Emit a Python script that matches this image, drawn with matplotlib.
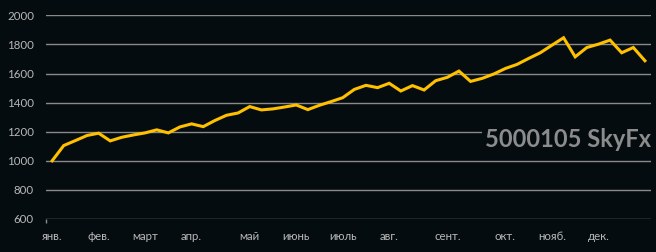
import matplotlib
matplotlib.use("Agg")
from matplotlib import pyplot as plt

# weekly balance
balance = [1000, 1105, 1139, 1174, 1190, 1137, 1162, 1178, 1192, 1213,
           1192, 1233, 1254, 1235, 1277, 1313, 1329, 1373, 1350, 1357,
           1370, 1384, 1352, 1382, 1407, 1434, 1491, 1519, 1503, 1533,
           1480, 1517, 1487, 1551, 1574, 1617, 1546, 1567, 1597, 1635,
           1663, 1704, 1743, 1795, 1846, 1715, 1779, 1802, 1830, 1743,
           1779, 1688]
weeks = list(range(len(balance)))

month_pos = [0, 4, 8, 12, 17, 21, 25, 29, 34, 39, 43, 47]
month_labels = ["янв.", "фев.", "март", "апр.", "май", "июнь",
                "июль", "авг.", "сент.", "окт.", "нояб.", "дек."]
y_ticks = [600, 800, 1000, 1200, 1400, 1600, 1800, 2000]

bg = "#050c10"
grid_col = "#8a8a8a"
label_col = "#b8b8b8"

plt.rcParams["font.family"] = ["Lato", "DejaVu Sans"]

fig = plt.figure(figsize=(6.56, 2.52), dpi=100, facecolor=bg)
ax = fig.add_axes([0.0697, 0.131, 0.9223, 0.808])
ax.set_facecolor(bg)

for y in y_ticks:
    ax.axhline(y, color=grid_col, lw=1.0, zorder=1)

ax.plot(weeks, balance, color="#FFC000", lw=2.2, zorder=3,
        solid_joinstyle="miter")

ax.set_xlim(-0.55, 51.5)
ax.set_ylim(600, 2000)
ax.set_yticks(y_ticks)
ax.set_yticklabels([str(v) for v in y_ticks])
ax.set_xticks(month_pos)
ax.set_xticklabels(month_labels)
ax.set_xticks([-0.55], minor=True)
ax.tick_params(axis="y", length=0, pad=8.5, labelsize=8.3, labelcolor=label_col)
ax.tick_params(axis="x", which="major", length=0, pad=9, labelsize=8.3,
               labelcolor=label_col)
ax.tick_params(axis="x", which="minor", length=3, width=1, color=grid_col,
               direction="out")
for s in ax.spines.values():
    s.set_visible(False)

ax.text(51.55, 1144, "5000105 SkyFx", ha="right", va="center",
        fontsize=17, fontweight="bold", color="#8c8c8c", zorder=4,
        bbox=dict(boxstyle="square,pad=0.15", fc=bg, ec="none"))

fig.savefig("out.png", dpi=100, facecolor=bg)
